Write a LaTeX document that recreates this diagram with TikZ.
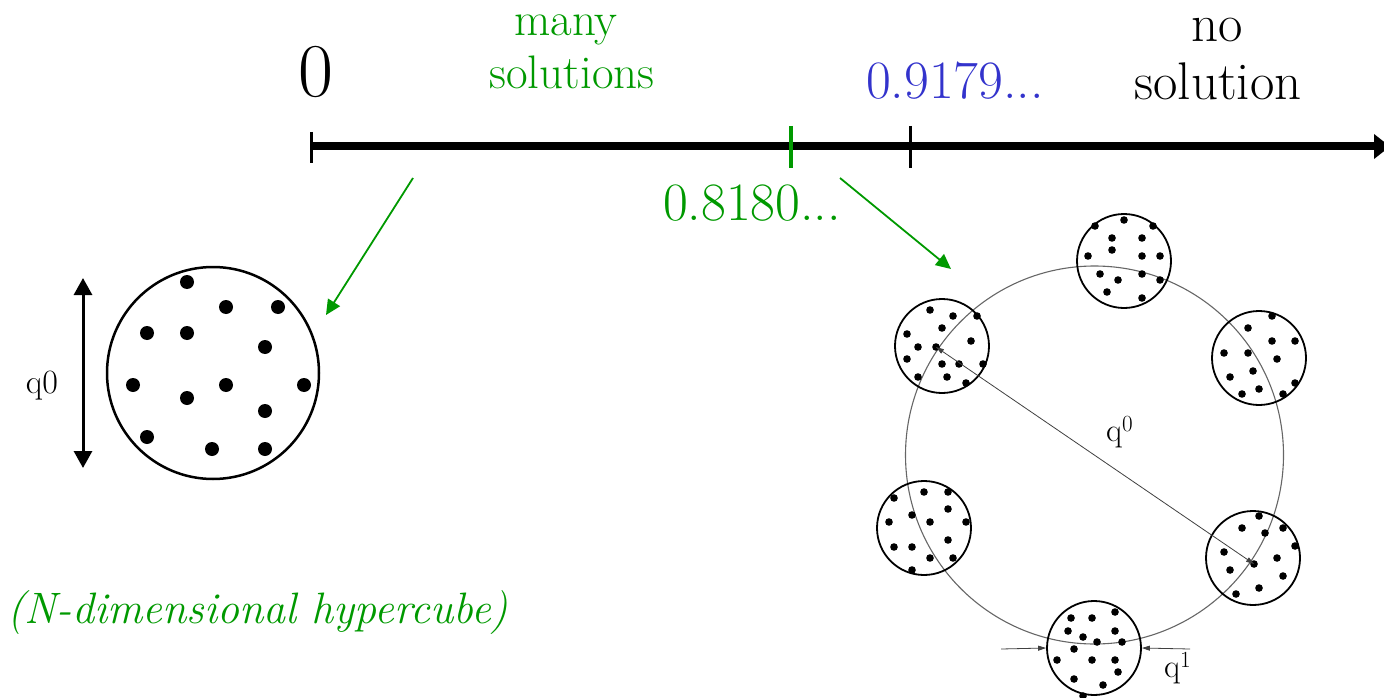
\documentclass[tikz,border=0pt]{standalone}
\usepackage{fontspec}
\usetikzlibrary{arrows.meta}
\definecolor{pptgreen}{RGB}{0,153,0}
\definecolor{pptblue}{RGB}{51,51,204}
\begin{document}
\begin{tikzpicture}[x=1pt,y=-1pt,
  lbl/.style={inner sep=0pt, anchor=base},
  cluster/.style={draw, circle, minimum size=94pt, inner sep=0pt, line width=1.8pt},
  pointer/.style={pptgreen, line width=1.8pt, -{Triangle[length=15pt,width=14pt]}},
  thinarrow/.style={black!75, line width=0.8pt, -{Triangle[length=8pt,width=5pt]}},
  tickmark/.style={line width=3pt}]
\useasboundingbox (0,0) rectangle (1384,698);

% ---------- number line ----------
\coordinate (axL) at (311,146.5);
\coordinate (axR) at (1390,146.5);
\draw[line width=8pt, -{Triangle[length=16pt,width=24pt]}] (axL) -- (axR);
\coordinate (t0a) at (311,132); \coordinate (t0b) at (311,163);
\draw[tickmark] (t0a) -- (t0b);
\coordinate (t1a) at (791,126); \coordinate (t1b) at (791,168);
\draw[tickmark, pptgreen, line width=4pt] (t1a) -- (t1b);
\coordinate (t2a) at (910,126); \coordinate (t2b) at (910,168);
\draw[tickmark] (t2a) -- (t2b);

% ---------- labels on top ----------
\node[lbl, font=\rmfamily\fontsize{76}{80}\selectfont] (zero) at (316,97) {0};
\node[lbl, pptgreen, font=\rmfamily\fontsize{47}{52}\selectfont] (many) at (566,36) {many};
\node[lbl, pptgreen, font=\rmfamily\fontsize{47}{52}\selectfont] (sols) at (572,89) {solutions};
\node[lbl, pptblue, font=\rmfamily\fontsize{54}{58}\selectfont] (crit) at (955,99) {0.9179...};
\node[lbl, font=\rmfamily\fontsize{53}{58}\selectfont] (no) at (1217,42) {no};
\node[lbl, font=\rmfamily\fontsize{53}{58}\selectfont] (nosol) at (1218,100) {solution};
\node[lbl, pptgreen, font=\rmfamily\fontsize{54}{58}\selectfont] (rsb) at (752,220) {0.8180...};

% ---------- left: single cluster ----------
\node[draw, circle, minimum size=212pt, inner sep=0pt, line width=2.5pt] (cube) at (213,373) {};
\foreach \x/\y in {187/282,226/307,278/307,147/333,187/333,265/347,133/385,226/385,
                   304/385,187/398,265/411,147/437,212/449,265/449}
  \fill (\x,\y) circle[radius=7pt];
\coordinate (qa) at (83,278); \coordinate (qb) at (83,468);
\draw[line width=3pt, {Triangle[length=17pt,width=18pt]}-{Triangle[length=17pt,width=18pt]}] (qa) -- (qb);
\node[lbl, font=\rmfamily\fontsize{34}{38}\selectfont] (q0) at (42,393) {q0};
\node[lbl, anchor=base west, pptgreen, font=\rmfamily\itshape\fontsize{44}{48}\selectfont] (hyper) at (7,623) {(N-dimensional hypercube)};

% ---------- green pointers ----------
\coordinate (p1s) at (413,178); \coordinate (p1e) at (326,315);
\draw[pointer] (p1s) -- (p1e);
\coordinate (p2s) at (840,178); \coordinate (p2e) at (951,269);
\draw[pointer] (p2s) -- (p2e);

% ---------- right: clustered states ----------
\node[draw, circle, minimum size=378pt, inner sep=0pt, black!60, line width=1.1pt] (ring) at (1094.5,455) {};
\node[cluster] (c1) at (1124,261) {};
\node[cluster] (c2) at (942,346) {};
\node[cluster] (c3) at (1259,358) {};
\node[cluster] (c4) at (924,528) {};
\node[cluster] (c5) at (1253,558) {};
\node[cluster] (c6) at (1094,648) {};
\foreach \x/\y in {
  1124/220,1095/226,1153/226,1112/238,1142/238,1112/250,1142/256,1160/256,1088/256,
  1100/274,1118/280,1142/274,1160/280,1107/292,1142/298,
  930/310,953/316,977/316,942/328,907/334,918/347,936/347,971/341,907/359,942/364,
  959/364,983/364,947/377,918/377,966/383,
  1272/316,1248/328,1272/341,1295/341,1224/353,1248/353,1277/359,1253/371,1230/377,
  1295/383,1259/389,1242/394,1283/394,
  894/498,924/492,948/492,948/509,912/515,889/522,930/522,966/522,894/547,912/547,
  948/540,930/558,953/558,912/570,
  1259/516,1242/528,1283/528,1265/533,1295/546,1224/552,1277/558,1254/564,1230/570,
  1283/576,1259/588,1236/594,
  1071/618,1092/618,1115/612,1068/631,1115/631,1083/637,1097/642,1122/642,1074/649,
  1057/660,1092/660,1115/660,1118/672,1074/679,1103/685,1083/696}
  \fill (\x,\y) circle[radius=3.8pt];

% q0 diameter arrow
\coordinate (da) at (936,347); \coordinate (db) at (1254,564);
\draw[thinarrow, {Triangle[length=8pt,width=5pt]}-{Triangle[length=8pt,width=5pt]}] (da) -- (db);
\node[lbl, anchor=base west, font=\rmfamily\fontsize{33}{36}\selectfont] (q0lab) at (1106,441) {q\textsuperscript{0}};

% q1 width arrows
\coordinate (wl) at (1001,649); \coordinate (wr) at (1190,649);
\draw[thinarrow] (wl) -- (c6.west);
\draw[thinarrow] (wr) -- (c6.east);
\node[lbl, anchor=base west, font=\rmfamily\fontsize{33}{36}\selectfont] (q1lab) at (1164,677) {q\textsuperscript{1}};
\end{tikzpicture}
\end{document}
